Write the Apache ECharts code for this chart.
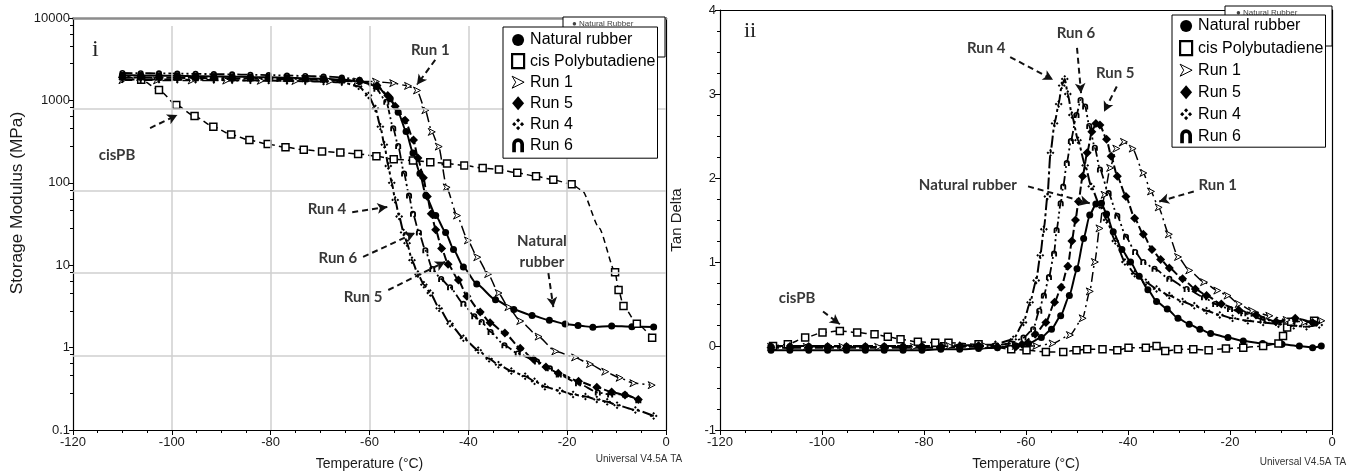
<!DOCTYPE html>
<html>
<head>
<meta charset="utf-8">
<script src="https://cdn.jsdelivr.net/npm/echarts@6/dist/echarts.min.js"></script>
<style>
  html, body { margin: 0; padding: 0; background: #fff; }
  #chart { width: 1359px; height: 476px; }
</style>
</head>
<body>
<div id="chart"></div>
<script>
// ---- Storage modulus (MPa) vs temperature (°C) ----
const modNatural = [[-110,2020],[-106.3,2010],[-102.6,1995],[-98.9,1985],[-95.2,1970],[-91.5,1955],[-87.8,1940],[-84.1,1925],[-80.4,1905],[-76.7,1885],[-73.0,1860],[-69.3,1830],[-65.6,1790],[-62.0,1700],[-58.5,1480],[-55.8,1050],[-54.2,720],[-52.6,420],[-51.2,230],[-49.8,130],[-48.6,70],[-46.6,40],[-44.6,25],[-43.0,15.5],[-41.0,9.5],[-38.3,5.9],[-34.5,3.8],[-30.8,2.9],[-27.1,2.45],[-23.6,2.15],[-20.4,1.93],[-17.8,1.85],[-14.8,1.77],[-11.0,1.83],[-6.9,1.79],[-2.5,1.78]];
const modCisPB = [[-109.0,1950],[-106.2,1780],[-102.6,1340],[-99.1,880],[-95.4,645],[-91.6,480],[-88.0,385],[-84.3,330],[-80.6,295],[-77.0,270],[-73.3,252],[-69.6,240],[-65.9,233],[-62.3,224],[-58.6,210],[-55.1,193],[-51.2,187],[-47.7,178],[-44.3,172],[-40.8,162],[-37.1,151],[-33.8,145],[-30.1,132],[-26.3,120],[-22.8,109],[-19.1,96],[-16.9,80],[-13.5,28],[-10.3,8.2],[-9.6,5.0],[-8.6,3.2],[-5.9,1.95],[-2.8,1.32]];
const modRun1 = [[-110,1760],[-103,1750],[-96,1745],[-89,1740],[-82,1730],[-75,1720],[-68,1710],[-62.5,1700],[-58.7,1690],[-55.2,1620],[-52.2,1500],[-50.4,1320],[-48.7,760],[-47.4,415],[-46.0,275],[-44.4,88],[-42.3,40],[-40.1,20],[-38.2,12.5],[-36.0,7.8],[-33.9,4.6],[-31.9,3.1],[-29.5,2.1],[-25.8,1.36],[-22.4,0.9],[-18.4,0.76],[-15.4,0.63],[-12.3,0.51],[-9.4,0.43],[-6.6,0.37],[-2.9,0.35]];
const modRun5 = [[-110,1900],[-106.3,1895],[-102.6,1885],[-98.9,1880],[-95.2,1870],[-91.5,1860],[-87.8,1850],[-84.1,1840],[-80.4,1830],[-76.7,1815],[-73.0,1800],[-69.3,1780],[-65.6,1760],[-62.0,1720],[-58.5,1520],[-56.3,1150],[-54.8,850],[-52.8,575],[-51.1,330],[-50.2,200],[-49.1,115],[-48.3,68],[-47.5,42],[-46.6,27],[-45.4,16],[-44.1,10.3],[-42.0,6.6],[-40.3,4.2],[-37.6,2.7],[-35.6,2.0],[-32.6,1.5],[-29.5,0.98],[-26.8,0.72],[-24.3,0.58],[-21.8,0.49],[-17.7,0.39],[-14.0,0.33],[-11.0,0.29],[-8.3,0.265],[-5.6,0.235]];
const modRun4 = [[-110,1800],[-106.3,1795],[-102.6,1790],[-98.9,1785],[-95.2,1780],[-91.5,1770],[-87.8,1760],[-84.1,1750],[-80.4,1740],[-76.7,1725],[-73.0,1710],[-69.3,1690],[-65.6,1660],[-62.2,1480],[-60.2,1150],[-58.8,800],[-57.8,480],[-57.0,290],[-56.2,160],[-55.5,100],[-54.8,62],[-54.0,39],[-53.1,25],[-52.4,18.5],[-51.4,11.5],[-50.2,7.8],[-49.0,5.8],[-47.7,4.6],[-45.9,3.0],[-43.7,1.95],[-41.0,1.3],[-38.0,0.93],[-35.8,0.73],[-33.9,0.62],[-31.3,0.52],[-28.5,0.45],[-26.6,0.39],[-24.5,0.335],[-21.5,0.3],[-18.8,0.27],[-16.3,0.255],[-14.0,0.235],[-11.9,0.22],[-9.9,0.2],[-6.2,0.175],[-2.5,0.148]];
const modRun6 = [[-110,2150],[-106.3,2140],[-102.6,2130],[-98.9,2115],[-95.2,2100],[-91.5,2085],[-87.8,2070],[-84.1,2050],[-80.4,2030],[-76.7,2005],[-73.0,1980],[-69.3,1950],[-65.6,1900],[-62.0,1780],[-58.6,1380],[-56.6,960],[-55.2,460],[-54.2,280],[-53.0,130],[-52.0,70],[-51.2,42],[-50.0,25],[-48.7,15.2],[-47.3,9.0],[-45.5,6.8],[-43.7,5.4],[-41.0,3.4],[-38.8,2.4],[-37.3,2.05],[-35.5,1.55],[-32.7,1.07],[-30.0,0.85],[-26.1,0.68],[-23.5,0.56],[-21.7,0.47],[-17.8,0.37],[-13.8,0.285],[-11.3,0.27],[-8.3,0.27],[-5.6,0.23]];
// temperatures on the cis-PB modulus trace drawn without a marker
const modCisPBPlain = [-109.0, -16.9, -13.5];

// ---- Tan delta vs temperature (°C) ----
const tanNatural = [[-110,-0.05],[-106.3,-0.05],[-102.6,-0.05],[-98.9,-0.05],[-95.2,-0.05],[-91.5,-0.05],[-87.8,-0.05],[-84.1,-0.05],[-80.4,-0.05],[-76.7,-0.04],[-73.0,-0.04],[-69.3,-0.03],[-65.6,-0.02],[-62.0,0.0],[-59.5,0.03],[-57.0,0.1],[-55.0,0.2],[-53.2,0.36],[-51.5,0.6],[-50.0,0.92],[-48.7,1.28],[-47.5,1.56],[-46.3,1.69],[-45.2,1.7],[-44.2,1.57],[-42.9,1.36],[-41.2,1.15],[-39.5,1.0],[-37.8,0.83],[-36.1,0.67],[-34.4,0.53],[-32.3,0.44],[-30.2,0.33],[-28.0,0.26],[-25.9,0.2],[-23.8,0.15],[-20.4,0.1],[-17.4,0.06],[-13.6,0.03],[-9.8,0.02],[-6.4,0.0],[-3.8,-0.02],[-2.1,0.0]];
const tanCisPB = [[-109.6,0.0],[-106.7,0.02],[-103.3,0.1],[-99.9,0.16],[-96.5,0.18],[-93.1,0.16],[-89.7,0.14],[-87.1,0.11],[-84.6,0.08],[-81.2,0.05],[-77.8,0.04],[-75.2,0.04],[-69.3,0.02],[-62.9,-0.04],[-59.9,-0.05],[-56.1,-0.07],[-52.7,-0.07],[-50.1,-0.05],[-48.0,-0.04],[-45.0,-0.04],[-42.1,-0.05],[-39.9,-0.02],[-36.5,-0.02],[-34.4,0.0],[-32.7,-0.06],[-30.2,-0.04],[-27.2,-0.04],[-24.2,-0.05],[-20.8,-0.03],[-17.4,-0.02],[-13.5,0.0],[-10.5,0.03],[-9.6,0.12],[-8.8,0.22],[-8.0,0.29],[-3.5,0.3]];
const tanRun1 = [[-110,-0.01],[-103,-0.01],[-96,-0.01],[-89,-0.01],[-82,-0.01],[-75,0.0],[-68,0.0],[-62.0,0.0],[-58.0,0.0],[-54.8,0.03],[-51.4,0.13],[-48.9,0.33],[-47.5,0.65],[-46.5,1.0],[-45.6,1.4],[-44.6,1.8],[-43.5,2.12],[-42.3,2.35],[-40.8,2.43],[-39.1,2.35],[-37.0,2.06],[-35.5,1.84],[-34.0,1.65],[-32.0,1.33],[-30.2,1.06],[-28.0,0.9],[-25.1,0.76],[-22.5,0.66],[-20.5,0.6],[-18.3,0.5],[-15.7,0.42],[-12.3,0.36],[-8.9,0.31],[-5.5,0.28],[-2.1,0.3]];
const tanRun5 = [[-110,-0.02],[-106.3,-0.02],[-102.6,-0.02],[-98.9,-0.02],[-95.2,-0.02],[-91.5,-0.02],[-87.8,-0.02],[-84.1,-0.02],[-80.4,-0.02],[-76.7,-0.02],[-73.0,-0.01],[-69.3,-0.01],[-65.6,-0.01],[-62.0,-0.01],[-60.8,0.02],[-58.2,0.14],[-56.1,0.28],[-54.4,0.52],[-53.1,0.7],[-51.8,0.95],[-51.0,1.25],[-50.3,1.5],[-49.7,1.72],[-48.9,2.02],[-48.0,2.3],[-47.1,2.55],[-46.3,2.65],[-45.5,2.63],[-44.2,2.46],[-43.3,2.26],[-42.1,2.02],[-40.4,1.78],[-38.7,1.52],[-37.0,1.33],[-35.3,1.15],[-33.6,1.03],[-31.9,0.93],[-29.3,0.8],[-26.8,0.68],[-24.6,0.6],[-21.7,0.5],[-18.3,0.43],[-14.9,0.37],[-11.0,0.29],[-7.2,0.33],[-3.8,0.28]];
const tanRun4 = [[-110,0.0],[-106.3,0.0],[-102.6,0.0],[-98.9,0.0],[-95.2,0.0],[-91.5,0.0],[-87.8,0.0],[-84.1,0.0],[-80.4,0.0],[-76.7,0.0],[-73.0,0.01],[-69.3,0.01],[-66.0,0.02],[-62.5,0.08],[-60.5,0.28],[-59.2,0.52],[-58.0,0.78],[-57.2,1.08],[-56.5,1.39],[-55.8,1.78],[-55.2,2.3],[-54.4,2.65],[-53.6,2.88],[-53.0,3.1],[-52.4,3.18],[-51.8,3.0],[-51.0,2.75],[-49.8,2.45],[-48.4,2.15],[-47.2,1.9],[-45.6,1.68],[-44.2,1.5],[-42.5,1.25],[-40.6,1.0],[-38.7,0.86],[-36.5,0.76],[-34.4,0.68],[-31.9,0.6],[-29.3,0.53],[-27.0,0.48],[-24.6,0.42],[-22.0,0.37],[-19.5,0.33],[-16.5,0.3],[-13.5,0.28],[-10.5,0.26],[-7.5,0.24],[-5.0,0.23],[-2.5,0.25]];
const tanRun6 = [[-110,0.0],[-106.3,0.0],[-102.6,0.0],[-98.9,0.0],[-95.2,0.0],[-91.5,0.0],[-87.8,0.0],[-84.1,0.0],[-80.4,0.0],[-76.7,0.0],[-73.0,0.0],[-69.3,0.01],[-66.0,0.01],[-63.0,0.03],[-60.5,0.1],[-58.6,0.2],[-57.4,0.42],[-56.5,0.6],[-55.5,0.82],[-54.5,1.1],[-54.0,1.38],[-53.2,1.7],[-52.7,1.9],[-52.0,2.18],[-51.2,2.44],[-50.1,2.75],[-49.3,2.93],[-48.4,2.85],[-47.6,2.62],[-46.5,2.36],[-45.5,2.1],[-43.8,1.82],[-42.1,1.55],[-40.4,1.3],[-38.6,1.12],[-37.0,1.0],[-34.8,0.92],[-31.9,0.8],[-28.5,0.68],[-25.1,0.58],[-22.9,0.5],[-20.0,0.44],[-17.4,0.39],[-13.6,0.32],[-10.6,0.28],[-7.2,0.32],[-3.4,0.27]];

// ---- axes ----
const tempTicks = { min: -120, max: 0, interval: 20 };
const modulusRange = { min: 0.1, max: 10000 };
const tanRange = { min: -1, max: 4, interval: 1 };
const modulusGridLevels = [0.8, 8, 80, 800];
const modulusGridTemps = [-100, -80, -60, -40, -20];

// ---- callouts: label text, label anchor, arrow start, arrow tip ----
const modulusNotes = [
  { text: 'Run 1', at: [-47.7, 4070], from: [-46.7, 3100], to: [-50.4, 1550] },
  { text: 'cisPB', at: [-111.1, 218], from: [-104.4, 462], to: [-98.9, 663] },
  { text: 'Run 4', at: [-68.6, 48], from: [-63.5, 44], to: [-56.4, 51] },
  { text: 'Run 6', at: [-66.4, 12.2], from: [-61.3, 12.6], to: [-50.8, 24.6] },
  { text: 'Run 5', at: [-61.3, 4.1], from: [-56.2, 5.0], to: [-44.7, 11] },
  { text: 'Natural\nrubber', at: [-25.1, 14.7], from: [-23.8, 8.0], to: [-22.8, 3.1] }
];
const tanNotes = [
  { text: 'Run 4', at: [-67.8, 3.54], from: [-63.1, 3.44], to: [-54.7, 3.17] },
  { text: 'Run 6', at: [-50.2, 3.73], from: [-50.0, 3.55], to: [-49.2, 3.01] },
  { text: 'Run 5', at: [-42.5, 3.25], from: [-42.2, 3.09], to: [-44.7, 2.79] },
  { text: 'Natural rubber', at: [-71.4, 1.92], from: [-59.6, 1.90], to: [-47.5, 1.70] },
  { text: 'Run 1', at: [-22.4, 1.92], from: [-27.1, 1.84], to: [-33.9, 1.72] },
  { text: 'cisPB', at: [-104.9, 0.575], from: [-99.8, 0.41], to: [-96.5, 0.26] }
];

// ---- marker shapes ----
const ARROWHEAD = 'path://M0,0L20,10L0,20L6,10Z';
const FOUR_DIAMONDS = 'path://M10,0L13.5,3.5L10,7L6.5,3.5Z M10,13L13.5,16.5L10,20L6.5,16.5Z M0,10L3.5,6.5L7,10L3.5,13.5Z M13,10L16.5,6.5L20,10L16.5,13.5Z';
const HORSESHOE = 'path://M2,20L2,9A8,8 0 0 1 18,9L18,20L13,20L13,9A3,3 0 0 0 7,9L7,20Z';

const styles = {
  'Natural rubber':    { symbol: 'circle', size: 7, item: { color: '#000' }, line: { width: 2, type: 'solid' } },
  'cis Polybutadiene': { symbol: 'rect', size: 7, item: { color: '#fff', borderColor: '#000', borderWidth: 1.5 }, icon: { color: '#fff', borderColor: '#000', borderWidth: 2.2 }, line: { width: 1.5, type: [6, 4] } },
  'Run 1':             { symbol: ARROWHEAD, size: 7, item: { color: '#fff', borderColor: '#000', borderWidth: 1 }, line: { width: 1.5, type: [10, 4, 2, 4] } },
  'Run 5':             { symbol: 'diamond', size: 9, item: { color: '#000' }, line: { width: 2, type: [8, 3] } },
  'Run 4':             { symbol: FOUR_DIAMONDS, size: 8, item: { color: '#000' }, line: { width: 2, type: [12, 3, 3, 3] } },
  'Run 6':             { symbol: HORSESHOE, size: 6, item: { color: '#000' }, line: { width: 1.8, type: [10, 3, 2, 3, 2, 3] } }
};
const legendOrder = ['Natural rubber', 'cis Polybutadiene', 'Run 1', 'Run 5', 'Run 4', 'Run 6'];

const modulusData = {
  'Natural rubber': modNatural, 'cis Polybutadiene': modCisPB, 'Run 1': modRun1,
  'Run 5': modRun5, 'Run 4': modRun4, 'Run 6': modRun6
};
const tanData = {
  'Natural rubber': tanNatural, 'cis Polybutadiene': tanCisPB, 'Run 1': tanRun1,
  'Run 5': tanRun5, 'Run 4': tanRun4, 'Run 6': tanRun6
};

function curve(name, data, xi, yi, plainTemps) {
  const s = styles[name];
  return {
    name, type: 'line', xAxisIndex: xi, yAxisIndex: yi, data,
    symbol: s.symbol,
    symbolSize: plainTemps ? (v => plainTemps.includes(v[0]) ? 0 : s.size) : s.size,
    showAllSymbol: true,
    itemStyle: s.item,
    lineStyle: Object.assign({ color: '#000' }, s.line),
    smooth: 0.2, smoothMonotone: 'x',
    z: 3, animation: false
  };
}

const LABEL_FONT = { fontFamily: 'Lato, "Open Sans", sans-serif', fontWeight: 'bold', fontSize: 15, color: '#383838', lineHeight: 21 };

function callouts(notes, xi, yi) {
  return {
    name: 'callouts', type: 'line', xAxisIndex: xi, yAxisIndex: yi, data: [],
    silent: true, z: 5, animation: false,
    markLine: {
      silent: true, animation: false, symbol: ['none', 'arrow'], symbolSize: [8, 10],
      label: { show: false },
      lineStyle: { color: '#111', width: 2, type: [6, 4] },
      data: notes.map(n => [{ coord: n.from }, { coord: n.to }])
    },
    markPoint: {
      silent: true, animation: false, symbol: 'circle', symbolSize: 1,
      itemStyle: { color: 'rgba(0,0,0,0)' },
      label: Object.assign({ show: true, position: 'inside', formatter: p => p.name }, LABEL_FONT),
      data: notes.map(n => ({ name: n.text, coord: n.at }))
    }
  };
}

const gridLines = {
  name: 'grid', type: 'line', xAxisIndex: 0, yAxisIndex: 0, data: [], silent: true, z: 1, animation: false,
  markLine: {
    silent: true, animation: false, symbol: 'none', label: { show: false },
    lineStyle: { color: '#cfcfcf', width: 1.5, type: 'solid' },
    data: [
      ...modulusGridLevels.map(v => [{ coord: [tempTicks.min, v] }, { coord: [tempTicks.max, v] }]),
      ...modulusGridTemps.map(t => [{ coord: [t, modulusRange.min] }, { coord: [t, 8000] }])
    ]
  }
};

const AXIS_FONT = { fontFamily: '"Liberation Sans", Arial, sans-serif', fontSize: 13, color: '#1a1a1a' };
const NAME_FONT = { fontFamily: '"Liberation Sans", Arial, sans-serif', fontSize: 14, color: '#1a1a1a' };

function tempAxis(gridIndex) {
  return {
    type: 'value', gridIndex, position: 'bottom', min: tempTicks.min, max: tempTicks.max, interval: tempTicks.interval,
    axisLine: { show: true, onZero: false, lineStyle: { color: '#000', width: 1.2 } },
    axisTick: { show: true, inside: false, length: 5, lineStyle: { color: '#000' } },
    minorTick: { show: true, splitNumber: 4, length: 3, lineStyle: { color: '#000' } },
    axisLabel: Object.assign({ margin: 6, showMinLabel: true, showMaxLabel: true }, AXIS_FONT),
    splitLine: { show: false },
    name: 'Temperature (°C)', nameLocation: 'middle', nameGap: 27, nameTextStyle: NAME_FONT
  };
}
function borderAxis(gridIndex, position, color, width) {
  return {
    type: 'value', gridIndex, position, min: 0, max: 1,
    axisLine: { show: true, onZero: false, lineStyle: { color, width } },
    axisTick: { show: false }, axisLabel: { show: false }, splitLine: { show: false }
  };
}

function legendFor(left, top, padding, gap) {
  return {
    orient: 'vertical', left, top, padding, itemGap: gap,
    itemWidth: 12, itemHeight: 14,
    backgroundColor: '#fff', borderColor: '#000', borderWidth: 1, borderRadius: 0,
    textStyle: { fontFamily: '"Liberation Sans", Arial, sans-serif', fontSize: 16, color: '#000', padding: [0, 0, 0, 1] },
    selectedMode: false, z: 20,
    data: legendOrder.map(name => ({ name, icon: styles[name].symbol, itemStyle: styles[name].icon || styles[name].item }))
  };
}

const chart = echarts.init(document.getElementById('chart'), null, { renderer: 'canvas' });

chart.setOption({
  animation: false,
  backgroundColor: '#fff',
  grid: [
    { left: 73, top: 18, width: 593, height: 412 },
    { left: 720, top: 10, width: 612, height: 421 }
  ],
  xAxis: [
    tempAxis(0),
    borderAxis(0, 'top', '#8c8c8c', 2.5),
    tempAxis(1),
    borderAxis(1, 'top', '#000', 1.2)
  ],
  yAxis: [
    {
      type: 'log', gridIndex: 0, position: 'left', logBase: 10, min: modulusRange.min, max: modulusRange.max,
      axisLine: { show: true, onZero: false, lineStyle: { color: '#000', width: 1.2 } },
      axisTick: { show: true, inside: false, length: 4, lineStyle: { color: '#000' } },
      minorTick: { show: true, splitNumber: 5, length: 3, lineStyle: { color: '#000' } },
      axisLabel: Object.assign({ margin: 3, showMinLabel: true, showMaxLabel: true, formatter: v => String(v) }, AXIS_FONT),
      splitLine: { show: false }
    },
    borderAxis(0, 'right', '#000', 1.2),
    {
      type: 'value', gridIndex: 1, position: 'left', min: tanRange.min, max: tanRange.max, interval: tanRange.interval,
      axisLine: { show: true, onZero: false, lineStyle: { color: '#000', width: 1.2 } },
      axisTick: { show: true, inside: false, length: 5, lineStyle: { color: '#000' } },
      minorTick: { show: true, splitNumber: 4, length: 3, lineStyle: { color: '#000' } },
      axisLabel: Object.assign({ margin: 4, showMinLabel: true, showMaxLabel: true }, AXIS_FONT),
      splitLine: { show: false },
      name: 'Tan Delta', nameLocation: 'middle', nameGap: 36, nameRotate: 90, nameTextStyle: Object.assign({}, NAME_FONT, { fontSize: 15 })
    },
    borderAxis(1, 'right', '#000', 1.2)
  ],
  legend: [
    legendFor(503, 27, [5, 2, 5, 8], 5),
    legendFor(1172, 15, [3, 2, 3, 7], 6)
  ],
  series: [
    gridLines,
    ...legendOrder.map(n => curve(n, modulusData[n], 0, 0, n === 'cis Polybutadiene' ? modCisPBPlain : null)),
    ...legendOrder.map(n => curve(n, tanData[n], 2, 2, null)),
    callouts(modulusNotes, 0, 0),
    callouts(tanNotes, 2, 2)
  ],
  graphic: [
    // older legend frames peeking out behind the current legends
    { type: 'rect', z: 10, shape: { x: 563, y: 17, width: 102, height: 40 }, style: { fill: '#fff', stroke: '#000', lineWidth: 1 } },
    { type: 'text', z: 11, x: 572, y: 20, style: { text: '● Natural Rubber', font: '8px "Liberation Sans", Arial', fill: '#444' } },
    { type: 'rect', z: 10, shape: { x: 1225, y: 6, width: 107, height: 40 }, style: { fill: '#fff', stroke: '#000', lineWidth: 1 } },
    { type: 'text', z: 11, x: 1236, y: 9, style: { text: '● Natural Rubber', font: '8px "Liberation Sans", Arial', fill: '#444' } },
    // panel tags
    { type: 'text', z: 12, x: 92, y: 38, style: { text: 'i', font: '24px "Liberation Serif", "DejaVu Serif", serif', fill: '#222' } },
    { type: 'text', z: 12, x: 744, y: 20, style: { text: 'ii', font: '22px "Liberation Serif", "DejaVu Serif", serif', fill: '#222' } },
    // left axis title
    { type: 'text', z: 12, x: 18, y: 203, rotation: Math.PI / 2, scaleX: 1.08,
      style: { text: 'Storage Modulus (MPa)', font: '16px "Liberation Sans", Arial', fill: '#1a1a1a', align: 'center', verticalAlign: 'middle' } },
    // instrument software stamp
    { type: 'text', z: 12, x: 639, y: 459, style: { text: 'Universal V4.5A TA', font: '10px "Liberation Sans", Arial', fill: '#333', align: 'center', verticalAlign: 'middle' } },
    { type: 'text', z: 12, x: 1303, y: 462, style: { text: 'Universal V4.5A TA', font: '10px "Liberation Sans", Arial', fill: '#333', align: 'center', verticalAlign: 'middle' } }
  ]
});
</script>
</body>
</html>
